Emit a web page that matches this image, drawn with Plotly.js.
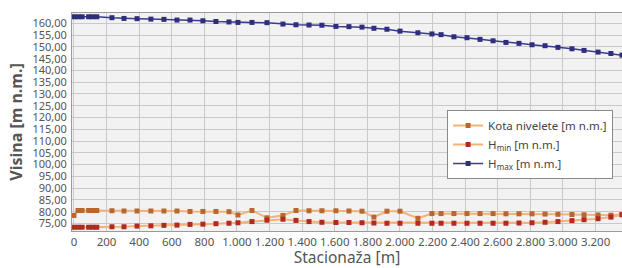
<!DOCTYPE html>
<html><head><meta charset="utf-8">
<script src="https://cdn.plot.ly/plotly-3.0.1.min.js"></script>
<style>html,body{margin:0;padding:0;background:#fff;}#chart{width:622px;height:268px;}</style>
</head><body><div id="chart"></div>
<script>
const stations = [0, 25, 50, 90, 115, 140, 233, 307, 387, 472, 552, 632, 712, 791, 871, 951, 1006, 1092, 1184, 1282, 1362, 1442, 1521, 1607, 1687, 1767, 1840, 1920, 2000, 2110, 2196, 2252, 2331, 2411, 2491, 2571, 2650, 2730, 2810, 2890, 2969, 3055, 3129, 3215, 3294, 3362];
const kotaNivelete = [78.4, 80.5, 80.5, 80.5, 80.5, 80.5, 80.4, 80.3, 80.3, 80.3, 80.3, 80.3, 80.1, 80.1, 80.1, 80.0, 78.6, 80.5, 77.4, 78.4, 80.5, 80.4, 80.4, 80.4, 80.3, 80.2, 77.7, 80.2, 80.2, 77.2, 79.2, 79.2, 79.2, 79.2, 79.2, 79.2, 79.1, 79.1, 79.1, 79.0, 78.9, 78.8, 78.7, 78.6, 78.5, 78.8];
const hMin = [73.4, 73.4, 73.4, 73.4, 73.4, 73.4, 73.6, 73.6, 73.9, 74.0, 74.2, 74.3, 74.6, 74.7, 74.9, 75.1, 75.3, 75.8, 76.4, 76.8, 76.3, 75.8, 75.5, 75.4, 75.4, 75.3, 75.2, 75.1, 75.1, 75.1, 75.1, 75.1, 75.1, 75.1, 75.1, 75.1, 75.1, 75.2, 75.3, 75.5, 75.8, 76.2, 76.6, 77.0, 77.7, 78.7];
const hMax = [162.8, 162.8, 162.8, 162.8, 162.8, 162.8, 162.4, 162.1, 162.0, 161.8, 161.7, 161.4, 161.4, 161.1, 160.8, 160.6, 160.4, 160.4, 160.3, 159.7, 159.4, 159.3, 159.2, 158.7, 158.6, 158.4, 157.9, 157.5, 156.7, 156.0, 155.5, 155.2, 154.3, 153.9, 153.2, 152.6, 151.9, 151.5, 150.9, 150.5, 149.8, 149.2, 148.5, 147.8, 147.2, 146.5];
const seriesNames = ['Kota nivelete [m n.m.]', 'H<sub>min</sub> [m n.m.]', 'H<sub>max</sub> [m n.m.]'];
const xTicks = [0, 200, 400, 600, 800, 1000, 1200, 1400, 1600, 1800, 2000, 2200, 2400, 2600, 2800, 3000, 3200];
const yTicks = [75, 80, 85, 90, 95, 100, 105, 110, 115, 120, 125, 130, 135, 140, 145, 150, 155, 160];

const font = 'Noto Sans, Open Sans, sans-serif';
const traces = [
  {x: stations, y: kotaNivelete, name: seriesNames[0], type: 'scatter', mode: 'lines+markers',
   line: {color: '#f2b27a', width: 2}, marker: {symbol: 'square', size: 5, color: '#b8672e'}},
  {x: stations, y: hMin, name: seriesNames[1], type: 'scatter', mode: 'lines+markers',
   line: {color: '#f2b27a', width: 2}, marker: {symbol: 'square', size: 5, color: '#b3281f'}},
  {x: stations, y: hMax, name: seriesNames[2], type: 'scatter', mode: 'lines+markers',
   line: {color: '#3c3c8c', width: 1.5}, marker: {symbol: 'square', size: 5, color: '#2e2e7e'}}
];
const layout = {
  width: 622, height: 268,
  margin: {l: 72, r: 0, t: 13, b: 37, pad: 0},
  paper_bgcolor: '#ffffff', plot_bgcolor: '#f2f2f2',
  separators: ',.',
  font: {family: font, size: 11, color: '#555'},
  showlegend: true,
  legend: {x: 0.682, y: 0.555, xanchor: 'left', yanchor: 'top', bgcolor: '#ffffff',
    bordercolor: '#8a8a8a', borderwidth: 1, font: {family: font, size: 11.5, color: '#444'},
    tracegroupgap: 0, itemwidth: 30},
  xaxis: {range: [-12, 3362], tickvals: xTicks, tickformat: ',d', showgrid: true,
    gridcolor: '#c9c9c9', gridwidth: 1, zeroline: false, showline: true, linecolor: '#9a9a9a',
    mirror: true, ticks: '', tickfont: {family: font, size: 11.5, color: '#555'},
    title: {text: 'Stacionaža [m]', font: {family: font, size: 15.5, color: '#555'}, standoff: 3},
    automargin: false},
  yaxis: {range: [71.8, 164.4], tickvals: yTicks, tickformat: '.2f', showgrid: true,
    gridcolor: '#c9c9c9', gridwidth: 1, zeroline: false, showline: true, linecolor: '#9a9a9a',
    mirror: true, ticks: '', ticklabelstandoff: 2, tickfont: {family: font, size: 11, color: '#555'},
    title: {text: '<b>Visina [m n.m.]</b>', font: {family: font, size: 16, color: '#555'}, standoff: 5},
    automargin: false}
};
Plotly.newPlot('chart', traces, layout, {displayModeBar: false, staticPlot: true});
</script></body></html>
